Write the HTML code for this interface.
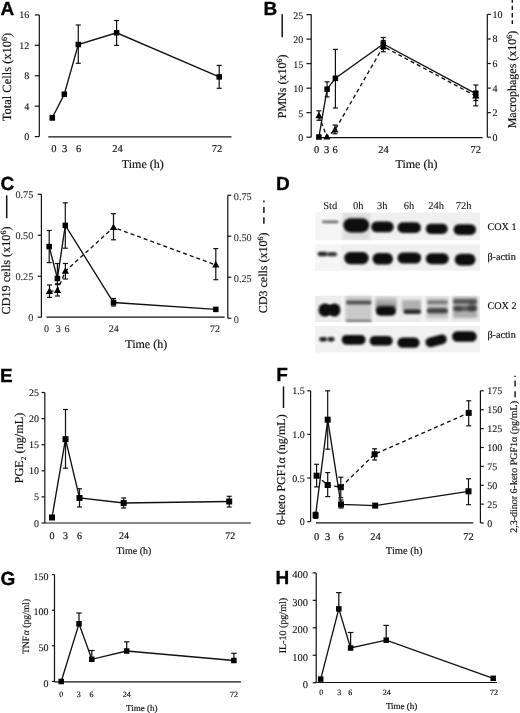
<!DOCTYPE html><html><head><meta charset="utf-8"><style>html,body{margin:0;padding:0;background:#fff;overflow:hidden}svg{display:block}</style></head><body>
<svg width="520" height="713" viewBox="0 0 520 713" text-rendering="geometricPrecision" style="will-change:transform">
<defs><linearGradient id="hg" x1="0" y1="0" x2="0" y2="1"><stop offset="0" stop-color="#000" stop-opacity="0.12"/><stop offset="1" stop-color="#000" stop-opacity="0.5"/></linearGradient><filter id="bl" x="-30%" y="-60%" width="160%" height="220%"><feGaussianBlur stdDeviation="1.6"/></filter><filter id="bl2" x="-30%" y="-60%" width="160%" height="220%"><feGaussianBlur stdDeviation="1.05"/></filter></defs>
<text x="0.5" y="14.8" font-family="Liberation Sans" font-size="19" text-anchor="start" font-weight="bold" fill="#000" stroke="#000" stroke-width="0.3" >A</text>
<line x1="39.3" y1="14.9" x2="39.3" y2="136.6" stroke="#111" stroke-width="1.2"/>
<line x1="34.8" y1="14.9" x2="39.3" y2="14.9" stroke="#111" stroke-width="1.2"/>
<text x="29.3" y="18.4" font-family="Liberation Serif" font-size="10" text-anchor="end" font-weight="normal" fill="#111" stroke="#111" stroke-width="0.1" >16</text>
<line x1="34.8" y1="45.32" x2="39.3" y2="45.32" stroke="#111" stroke-width="1.2"/>
<text x="29.3" y="48.82" font-family="Liberation Serif" font-size="10" text-anchor="end" font-weight="normal" fill="#111" stroke="#111" stroke-width="0.1" >12</text>
<line x1="34.8" y1="75.74" x2="39.3" y2="75.74" stroke="#111" stroke-width="1.2"/>
<text x="29.3" y="79.24" font-family="Liberation Serif" font-size="10" text-anchor="end" font-weight="normal" fill="#111" stroke="#111" stroke-width="0.1" >8</text>
<line x1="34.8" y1="106.16" x2="39.3" y2="106.16" stroke="#111" stroke-width="1.2"/>
<text x="29.3" y="109.66" font-family="Liberation Serif" font-size="10" text-anchor="end" font-weight="normal" fill="#111" stroke="#111" stroke-width="0.1" >4</text>
<line x1="34.8" y1="136.58" x2="39.3" y2="136.58" stroke="#111" stroke-width="1.2"/>
<text x="29.3" y="140.08" font-family="Liberation Serif" font-size="10" text-anchor="end" font-weight="normal" fill="#111" stroke="#111" stroke-width="0.1" >0</text>
<line x1="48.3" y1="136.8" x2="231.5" y2="136.8" stroke="#111" stroke-width="1.2"/>
<text x="53.8" y="152.3" font-family="Liberation Serif" font-size="10.5" text-anchor="middle" font-weight="normal" fill="#111" stroke="#111" stroke-width="0.18" >0</text>
<text x="64.6" y="152.3" font-family="Liberation Serif" font-size="10.5" text-anchor="middle" font-weight="normal" fill="#111" stroke="#111" stroke-width="0.18" >3</text>
<text x="78.5" y="152.3" font-family="Liberation Serif" font-size="10.5" text-anchor="middle" font-weight="normal" fill="#111" stroke="#111" stroke-width="0.18" >6</text>
<text x="117.6" y="152.3" font-family="Liberation Serif" font-size="10.5" text-anchor="middle" font-weight="normal" fill="#111" stroke="#111" stroke-width="0.18" >24</text>
<text x="217" y="152.3" font-family="Liberation Serif" font-size="10.5" text-anchor="middle" font-weight="normal" fill="#111" stroke="#111" stroke-width="0.18" >72</text>
<text x="142.8" y="167.5" font-family="Liberation Serif" font-size="12" text-anchor="middle" font-weight="normal" fill="#111" stroke="#111" stroke-width="0.18" >Time (h)</text>
<text transform="translate(10.9,77) rotate(-90)" x="0" y="0" font-family="Liberation Serif" font-size="12.5" text-anchor="middle" font-weight="normal" fill="#111" stroke="#111" stroke-width="0.18">Total Cells (x10<tspan dy="-4" font-size="8">6</tspan><tspan dy="4">)</tspan></text>
<polyline points="52.3,117.7 64.3,94.2 78.3,44.5 116.6,32.8 219.2,76.9" fill="none" stroke="#111" stroke-width="1.35"/>
<line x1="78.3" y1="25" x2="78.3" y2="63.3" stroke="#111" stroke-width="1.2"/>
<line x1="75.8" y1="25" x2="80.8" y2="25" stroke="#111" stroke-width="1.2"/>
<line x1="75.8" y1="63.3" x2="80.8" y2="63.3" stroke="#111" stroke-width="1.2"/>
<line x1="116.6" y1="20.5" x2="116.6" y2="45.4" stroke="#111" stroke-width="1.2"/>
<line x1="114.1" y1="20.5" x2="119.1" y2="20.5" stroke="#111" stroke-width="1.2"/>
<line x1="114.1" y1="45.4" x2="119.1" y2="45.4" stroke="#111" stroke-width="1.2"/>
<line x1="219.2" y1="65.4" x2="219.2" y2="88.3" stroke="#111" stroke-width="1.2"/>
<line x1="216.7" y1="65.4" x2="221.7" y2="65.4" stroke="#111" stroke-width="1.2"/>
<line x1="216.7" y1="88.3" x2="221.7" y2="88.3" stroke="#111" stroke-width="1.2"/>
<line x1="52.3" y1="115.5" x2="52.3" y2="120" stroke="#111" stroke-width="1.2"/>
<line x1="49.8" y1="115.5" x2="54.8" y2="115.5" stroke="#111" stroke-width="1.2"/>
<line x1="49.8" y1="120" x2="54.8" y2="120" stroke="#111" stroke-width="1.2"/>
<rect x="49.55" y="114.95" width="5.5" height="5.5" fill="#000"/>
<rect x="61.55" y="91.45" width="5.5" height="5.5" fill="#000"/>
<rect x="75.55" y="41.75" width="5.5" height="5.5" fill="#000"/>
<rect x="113.85" y="30.05" width="5.5" height="5.5" fill="#000"/>
<rect x="216.45" y="74.15" width="5.5" height="5.5" fill="#000"/>
<text x="263.5" y="14.9" font-family="Liberation Sans" font-size="19" text-anchor="start" font-weight="bold" fill="#000" stroke="#000" stroke-width="0.3" >B</text>
<line x1="282.2" y1="14.2" x2="282.2" y2="37.3" stroke="#111" stroke-width="1.5"/>
<line x1="311.2" y1="14.6" x2="311.2" y2="137.2" stroke="#111" stroke-width="1.2"/>
<line x1="306.4" y1="14.6" x2="311.2" y2="14.6" stroke="#111" stroke-width="1.2"/>
<text x="303.2" y="18.7" font-family="Liberation Serif" font-size="10" text-anchor="end" font-weight="normal" fill="#111" stroke="#111" stroke-width="0.1" >25</text>
<line x1="306.4" y1="39.12" x2="311.2" y2="39.12" stroke="#111" stroke-width="1.2"/>
<text x="303.2" y="43.22" font-family="Liberation Serif" font-size="10" text-anchor="end" font-weight="normal" fill="#111" stroke="#111" stroke-width="0.1" >20</text>
<line x1="306.4" y1="63.64" x2="311.2" y2="63.64" stroke="#111" stroke-width="1.2"/>
<text x="303.2" y="67.74" font-family="Liberation Serif" font-size="10" text-anchor="end" font-weight="normal" fill="#111" stroke="#111" stroke-width="0.1" >15</text>
<line x1="306.4" y1="88.16" x2="311.2" y2="88.16" stroke="#111" stroke-width="1.2"/>
<text x="303.2" y="92.26" font-family="Liberation Serif" font-size="10" text-anchor="end" font-weight="normal" fill="#111" stroke="#111" stroke-width="0.1" >10</text>
<line x1="306.4" y1="112.68" x2="311.2" y2="112.68" stroke="#111" stroke-width="1.2"/>
<text x="303.2" y="116.78" font-family="Liberation Serif" font-size="10" text-anchor="end" font-weight="normal" fill="#111" stroke="#111" stroke-width="0.1" >5</text>
<line x1="306.4" y1="137.2" x2="311.2" y2="137.2" stroke="#111" stroke-width="1.2"/>
<text x="303.2" y="141.3" font-family="Liberation Serif" font-size="10" text-anchor="end" font-weight="normal" fill="#111" stroke="#111" stroke-width="0.1" >0</text>
<line x1="487.3" y1="14.4" x2="487.3" y2="137.2" stroke="#111" stroke-width="1.2"/>
<line x1="487.3" y1="14.4" x2="490.8" y2="14.4" stroke="#111" stroke-width="1.2"/>
<text x="492.6" y="17.9" font-family="Liberation Serif" font-size="10" text-anchor="start" font-weight="normal" fill="#111" stroke="#111" stroke-width="0.1" >10</text>
<line x1="487.3" y1="38.96" x2="490.8" y2="38.96" stroke="#111" stroke-width="1.2"/>
<text x="492.6" y="42.46" font-family="Liberation Serif" font-size="10" text-anchor="start" font-weight="normal" fill="#111" stroke="#111" stroke-width="0.1" >8</text>
<line x1="487.3" y1="63.52" x2="490.8" y2="63.52" stroke="#111" stroke-width="1.2"/>
<text x="492.6" y="67.02" font-family="Liberation Serif" font-size="10" text-anchor="start" font-weight="normal" fill="#111" stroke="#111" stroke-width="0.1" >6</text>
<line x1="487.3" y1="88.08" x2="490.8" y2="88.08" stroke="#111" stroke-width="1.2"/>
<text x="492.6" y="91.58" font-family="Liberation Serif" font-size="10" text-anchor="start" font-weight="normal" fill="#111" stroke="#111" stroke-width="0.1" >4</text>
<line x1="487.3" y1="112.64" x2="490.8" y2="112.64" stroke="#111" stroke-width="1.2"/>
<text x="492.6" y="116.14" font-family="Liberation Serif" font-size="10" text-anchor="start" font-weight="normal" fill="#111" stroke="#111" stroke-width="0.1" >2</text>
<line x1="487.3" y1="137.2" x2="490.8" y2="137.2" stroke="#111" stroke-width="1.2"/>
<text x="492.6" y="140.7" font-family="Liberation Serif" font-size="10" text-anchor="start" font-weight="normal" fill="#111" stroke="#111" stroke-width="0.1" >0</text>
<line x1="316" y1="137.6" x2="482.5" y2="137.6" stroke="#111" stroke-width="1.2"/>
<text x="316.6" y="152.5" font-family="Liberation Serif" font-size="10.5" text-anchor="middle" font-weight="normal" fill="#111" stroke="#111" stroke-width="0.18" >0</text>
<text x="326.6" y="152.5" font-family="Liberation Serif" font-size="10.5" text-anchor="middle" font-weight="normal" fill="#111" stroke="#111" stroke-width="0.18" >3</text>
<text x="335.2" y="152.5" font-family="Liberation Serif" font-size="10.5" text-anchor="middle" font-weight="normal" fill="#111" stroke="#111" stroke-width="0.18" >6</text>
<text x="383.6" y="152.5" font-family="Liberation Serif" font-size="10.5" text-anchor="middle" font-weight="normal" fill="#111" stroke="#111" stroke-width="0.18" >24</text>
<text x="475.8" y="152.5" font-family="Liberation Serif" font-size="10.5" text-anchor="middle" font-weight="normal" fill="#111" stroke="#111" stroke-width="0.18" >72</text>
<text x="416.5" y="167.8" font-family="Liberation Serif" font-size="12" text-anchor="middle" font-weight="normal" fill="#111" stroke="#111" stroke-width="0.18" >Time (h)</text>
<text transform="translate(285.7,86.4) rotate(-90)" x="0" y="0" font-family="Liberation Serif" font-size="12" text-anchor="middle" font-weight="normal" fill="#111" stroke="#111" stroke-width="0.18">PMNs (x10<tspan dy="-4" font-size="8">6</tspan><tspan dy="4">)</tspan></text>
<text transform="translate(515.6,79.5) rotate(-90)" x="0" y="0" font-family="Liberation Serif" font-size="12" text-anchor="middle" font-weight="normal" fill="#111" stroke="#111" stroke-width="0.18">Macrophages (x10<tspan dy="-4" font-size="8">6</tspan><tspan dy="4">)</tspan></text>
<line x1="512.3" y1="-1.6" x2="512.3" y2="24" stroke="#111" stroke-width="1.4" stroke-dasharray="4.4,2.9"/>
<polyline points="318.9,115.7 326.9,137 335,130 383.3,46.5 475.8,96" fill="none" stroke="#111" stroke-width="1.35" stroke-dasharray="4,3"/>
<polyline points="318.9,137 327.1,89.2 335.4,78.3 383.3,44 475.8,93.7" fill="none" stroke="#111" stroke-width="1.35"/>
<line x1="327.1" y1="81.8" x2="327.1" y2="96.9" stroke="#111" stroke-width="1.2"/>
<line x1="324.6" y1="81.8" x2="329.6" y2="81.8" stroke="#111" stroke-width="1.2"/>
<line x1="324.6" y1="96.9" x2="329.6" y2="96.9" stroke="#111" stroke-width="1.2"/>
<line x1="335.4" y1="49.4" x2="335.4" y2="108" stroke="#111" stroke-width="1.2"/>
<line x1="332.9" y1="49.4" x2="337.9" y2="49.4" stroke="#111" stroke-width="1.2"/>
<line x1="332.9" y1="108" x2="337.9" y2="108" stroke="#111" stroke-width="1.2"/>
<line x1="383.3" y1="37.5" x2="383.3" y2="49" stroke="#111" stroke-width="1.2"/>
<line x1="380.8" y1="37.5" x2="385.8" y2="37.5" stroke="#111" stroke-width="1.2"/>
<line x1="380.8" y1="49" x2="385.8" y2="49" stroke="#111" stroke-width="1.2"/>
<line x1="475.8" y1="85" x2="475.8" y2="100.5" stroke="#111" stroke-width="1.2"/>
<line x1="473.3" y1="85" x2="478.3" y2="85" stroke="#111" stroke-width="1.2"/>
<line x1="473.3" y1="100.5" x2="478.3" y2="100.5" stroke="#111" stroke-width="1.2"/>
<line x1="318.9" y1="110.8" x2="318.9" y2="120.3" stroke="#111" stroke-width="1.2"/>
<line x1="316.4" y1="110.8" x2="321.4" y2="110.8" stroke="#111" stroke-width="1.2"/>
<line x1="316.4" y1="120.3" x2="321.4" y2="120.3" stroke="#111" stroke-width="1.2"/>
<line x1="335" y1="125" x2="335" y2="133.8" stroke="#111" stroke-width="1.2"/>
<line x1="332.5" y1="125" x2="337.5" y2="125" stroke="#111" stroke-width="1.2"/>
<line x1="332.5" y1="133.8" x2="337.5" y2="133.8" stroke="#111" stroke-width="1.2"/>
<line x1="383.3" y1="40.5" x2="383.3" y2="51.7" stroke="#111" stroke-width="1.2"/>
<line x1="380.8" y1="40.5" x2="385.8" y2="40.5" stroke="#111" stroke-width="1.2"/>
<line x1="380.8" y1="51.7" x2="385.8" y2="51.7" stroke="#111" stroke-width="1.2"/>
<line x1="475.8" y1="91" x2="475.8" y2="105.8" stroke="#111" stroke-width="1.2"/>
<line x1="473.3" y1="91" x2="478.3" y2="91" stroke="#111" stroke-width="1.2"/>
<line x1="473.3" y1="105.8" x2="478.3" y2="105.8" stroke="#111" stroke-width="1.2"/>
<rect x="316.15" y="134.25" width="5.5" height="5.5" fill="#000"/>
<rect x="324.35" y="86.45" width="5.5" height="5.5" fill="#000"/>
<rect x="332.65" y="75.55" width="5.5" height="5.5" fill="#000"/>
<rect x="380.55" y="41.25" width="5.5" height="5.5" fill="#000"/>
<rect x="473.05" y="90.95" width="5.5" height="5.5" fill="#000"/>
<polygon points="318.9,111.81 315.3,118.29 322.5,118.29" fill="#000"/>
<polygon points="326.9,133.11 323.3,139.59 330.5,139.59" fill="#000"/>
<polygon points="335,126.11 331.4,132.59 338.6,132.59" fill="#000"/>
<polygon points="383.3,42.61 379.7,49.09 386.9,49.09" fill="#000"/>
<polygon points="475.8,92.11 472.2,98.59 479.4,98.59" fill="#000"/>
<text x="0.5" y="189.7" font-family="Liberation Sans" font-size="19" text-anchor="start" font-weight="bold" fill="#000" stroke="#000" stroke-width="0.3" >C</text>
<line x1="6.7" y1="195.4" x2="6.7" y2="218.2" stroke="#111" stroke-width="1.5"/>
<line x1="41.4" y1="194.3" x2="41.4" y2="317.3" stroke="#111" stroke-width="1.2"/>
<line x1="37.7" y1="194.3" x2="41.4" y2="194.3" stroke="#111" stroke-width="1.2"/>
<text x="33.3" y="198.17" font-family="Liberation Serif" font-size="10.2" text-anchor="end" font-weight="normal" fill="#333" stroke="#333" stroke-width="0.1" >0.75</text>
<line x1="37.7" y1="235.27" x2="41.4" y2="235.27" stroke="#111" stroke-width="1.2"/>
<text x="33.3" y="239.14" font-family="Liberation Serif" font-size="10.2" text-anchor="end" font-weight="normal" fill="#333" stroke="#333" stroke-width="0.1" >0.50</text>
<line x1="37.7" y1="276.24" x2="41.4" y2="276.24" stroke="#111" stroke-width="1.2"/>
<text x="33.3" y="280.11" font-family="Liberation Serif" font-size="10.2" text-anchor="end" font-weight="normal" fill="#333" stroke="#333" stroke-width="0.1" >0.25</text>
<line x1="37.7" y1="317.21" x2="41.4" y2="317.21" stroke="#111" stroke-width="1.2"/>
<text x="33.3" y="321.08" font-family="Liberation Serif" font-size="10.2" text-anchor="end" font-weight="normal" fill="#333" stroke="#333" stroke-width="0.1" >0</text>
<line x1="227.8" y1="195.2" x2="227.8" y2="318.2" stroke="#111" stroke-width="1.2"/>
<line x1="227.8" y1="195.2" x2="231.3" y2="195.2" stroke="#111" stroke-width="1.2"/>
<text x="233.8" y="199.57" font-family="Liberation Serif" font-size="10.2" text-anchor="start" font-weight="normal" fill="#333" stroke="#333" stroke-width="0.1" >0.75</text>
<line x1="227.8" y1="236.2" x2="231.3" y2="236.2" stroke="#111" stroke-width="1.2"/>
<text x="233.8" y="240.57" font-family="Liberation Serif" font-size="10.2" text-anchor="start" font-weight="normal" fill="#333" stroke="#333" stroke-width="0.1" >0.50</text>
<line x1="227.8" y1="277.2" x2="231.3" y2="277.2" stroke="#111" stroke-width="1.2"/>
<text x="233.8" y="281.57" font-family="Liberation Serif" font-size="10.2" text-anchor="start" font-weight="normal" fill="#333" stroke="#333" stroke-width="0.1" >0.25</text>
<line x1="227.8" y1="318.2" x2="231.3" y2="318.2" stroke="#111" stroke-width="1.2"/>
<text x="233.8" y="322.57" font-family="Liberation Serif" font-size="10.2" text-anchor="start" font-weight="normal" fill="#333" stroke="#333" stroke-width="0.1" >0</text>
<line x1="46.4" y1="317.2" x2="224.6" y2="317.2" stroke="#111" stroke-width="1.2"/>
<text x="46.5" y="332" font-family="Liberation Serif" font-size="10" text-anchor="middle" font-weight="normal" fill="#333" stroke="#333" stroke-width="0.18" >0</text>
<text x="58.3" y="332" font-family="Liberation Serif" font-size="10" text-anchor="middle" font-weight="normal" fill="#333" stroke="#333" stroke-width="0.18" >3</text>
<text x="67" y="332" font-family="Liberation Serif" font-size="10" text-anchor="middle" font-weight="normal" fill="#333" stroke="#333" stroke-width="0.18" >6</text>
<text x="113.7" y="332" font-family="Liberation Serif" font-size="10" text-anchor="middle" font-weight="normal" fill="#333" stroke="#333" stroke-width="0.18" >24</text>
<text x="215" y="332" font-family="Liberation Serif" font-size="10" text-anchor="middle" font-weight="normal" fill="#333" stroke="#333" stroke-width="0.18" >72</text>
<text x="146.2" y="347.5" font-family="Liberation Serif" font-size="12" text-anchor="middle" font-weight="normal" fill="#111" stroke="#111" stroke-width="0.18" >Time (h)</text>
<text transform="translate(10.0,270.5) rotate(-90)" x="0" y="0" font-family="Liberation Serif" font-size="12.2" text-anchor="middle" font-weight="normal" fill="#111" stroke="#111" stroke-width="0.18">CD19 cells (x10<tspan dy="-4" font-size="8">6</tspan><tspan dy="4">)</tspan></text>
<text transform="translate(266.9,272.8) rotate(-90)" x="0" y="0" font-family="Liberation Serif" font-size="12" text-anchor="middle" font-weight="normal" fill="#111" stroke="#111" stroke-width="0.18">CD3 cells (x10<tspan dy="-4" font-size="8">6</tspan><tspan dy="4">)</tspan></text>
<line x1="263.9" y1="200.6" x2="263.9" y2="223.8" stroke="#111" stroke-width="1.5" stroke-dasharray="1.6,4.7,6,4.4,6.5,10"/>
<polyline points="49.2,246.6 57.4,278.5 65.3,225.4 113.5,302.5 215.8,309.4" fill="none" stroke="#111" stroke-width="1.35"/>
<polyline points="49.5,291.5 57.5,290.3 65.4,271.2 113.5,227.4 215.8,265" fill="none" stroke="#111" stroke-width="1.35" stroke-dasharray="4,3"/>
<line x1="49.2" y1="230.5" x2="49.2" y2="262.6" stroke="#111" stroke-width="1.2"/>
<line x1="46.7" y1="230.5" x2="51.7" y2="230.5" stroke="#111" stroke-width="1.2"/>
<line x1="46.7" y1="262.6" x2="51.7" y2="262.6" stroke="#111" stroke-width="1.2"/>
<line x1="57.4" y1="263.5" x2="57.4" y2="284.6" stroke="#111" stroke-width="1.2"/>
<line x1="54.9" y1="263.5" x2="59.9" y2="263.5" stroke="#111" stroke-width="1.2"/>
<line x1="54.9" y1="284.6" x2="59.9" y2="284.6" stroke="#111" stroke-width="1.2"/>
<line x1="65.3" y1="202.8" x2="65.3" y2="248.2" stroke="#111" stroke-width="1.2"/>
<line x1="62.8" y1="202.8" x2="67.8" y2="202.8" stroke="#111" stroke-width="1.2"/>
<line x1="62.8" y1="248.2" x2="67.8" y2="248.2" stroke="#111" stroke-width="1.2"/>
<line x1="113.5" y1="298.5" x2="113.5" y2="306" stroke="#111" stroke-width="1.2"/>
<line x1="111.0" y1="298.5" x2="116.0" y2="298.5" stroke="#111" stroke-width="1.2"/>
<line x1="111.0" y1="306" x2="116.0" y2="306" stroke="#111" stroke-width="1.2"/>
<line x1="49.5" y1="285" x2="49.5" y2="297.4" stroke="#111" stroke-width="1.2"/>
<line x1="47.0" y1="285" x2="52.0" y2="285" stroke="#111" stroke-width="1.2"/>
<line x1="47.0" y1="297.4" x2="52.0" y2="297.4" stroke="#111" stroke-width="1.2"/>
<line x1="57.5" y1="283.8" x2="57.5" y2="296" stroke="#111" stroke-width="1.2"/>
<line x1="55.0" y1="283.8" x2="60.0" y2="283.8" stroke="#111" stroke-width="1.2"/>
<line x1="55.0" y1="296" x2="60.0" y2="296" stroke="#111" stroke-width="1.2"/>
<line x1="65.4" y1="263.5" x2="65.4" y2="279" stroke="#111" stroke-width="1.2"/>
<line x1="62.9" y1="263.5" x2="67.9" y2="263.5" stroke="#111" stroke-width="1.2"/>
<line x1="62.9" y1="279" x2="67.9" y2="279" stroke="#111" stroke-width="1.2"/>
<line x1="113.5" y1="213.7" x2="113.5" y2="239.8" stroke="#111" stroke-width="1.2"/>
<line x1="111.0" y1="213.7" x2="116.0" y2="213.7" stroke="#111" stroke-width="1.2"/>
<line x1="111.0" y1="239.8" x2="116.0" y2="239.8" stroke="#111" stroke-width="1.2"/>
<line x1="215.8" y1="248.6" x2="215.8" y2="279.7" stroke="#111" stroke-width="1.2"/>
<line x1="213.3" y1="248.6" x2="218.3" y2="248.6" stroke="#111" stroke-width="1.2"/>
<line x1="213.3" y1="279.7" x2="218.3" y2="279.7" stroke="#111" stroke-width="1.2"/>
<rect x="46.45" y="243.85" width="5.5" height="5.5" fill="#000"/>
<rect x="54.65" y="275.75" width="5.5" height="5.5" fill="#000"/>
<rect x="62.55" y="222.65" width="5.5" height="5.5" fill="#000"/>
<rect x="110.75" y="299.75" width="5.5" height="5.5" fill="#000"/>
<rect x="213.05" y="306.65" width="5.5" height="5.5" fill="#000"/>
<polygon points="49.5,287.61 45.9,294.09 53.1,294.09" fill="#000"/>
<polygon points="57.5,286.41 53.9,292.89 61.1,292.89" fill="#000"/>
<polygon points="65.4,267.31 61.8,273.79 69.0,273.79" fill="#000"/>
<polygon points="113.5,223.51 109.9,229.99 117.1,229.99" fill="#000"/>
<polygon points="215.8,261.11 212.2,267.59 219.4,267.59" fill="#000"/>
<text x="276" y="190" font-family="Liberation Sans" font-size="19" text-anchor="start" font-weight="bold" fill="#000" stroke="#000" stroke-width="0.3" >D</text>
<text x="330.2" y="208.7" font-family="Liberation Serif" font-size="10.5" text-anchor="middle" font-weight="normal" fill="#111" stroke="#111" stroke-width="0.08" >Std</text>
<text x="358.3" y="208.7" font-family="Liberation Serif" font-size="10.5" text-anchor="middle" font-weight="normal" fill="#111" stroke="#111" stroke-width="0.08" >0h</text>
<text x="382.2" y="208.7" font-family="Liberation Serif" font-size="10.5" text-anchor="middle" font-weight="normal" fill="#111" stroke="#111" stroke-width="0.08" >3h</text>
<text x="409" y="208.7" font-family="Liberation Serif" font-size="10.5" text-anchor="middle" font-weight="normal" fill="#111" stroke="#111" stroke-width="0.08" >6h</text>
<text x="436" y="208.7" font-family="Liberation Serif" font-size="10.5" text-anchor="middle" font-weight="normal" fill="#111" stroke="#111" stroke-width="0.08" >24h</text>
<text x="463.5" y="208.7" font-family="Liberation Serif" font-size="10.5" text-anchor="middle" font-weight="normal" fill="#111" stroke="#111" stroke-width="0.08" >72h</text>
<text x="487.4" y="229.7" font-family="Liberation Serif" font-size="10.2" text-anchor="start" font-weight="normal" fill="#111" stroke="#111" stroke-width="0.18" >COX 1</text>
<text x="487.4" y="259.8" font-family="Liberation Serif" font-size="10.2" text-anchor="start" font-weight="normal" fill="#111" stroke="#111" stroke-width="0.18" >&#946;-actin</text>
<text x="487.4" y="308.9" font-family="Liberation Serif" font-size="10.2" text-anchor="start" font-weight="normal" fill="#111" stroke="#111" stroke-width="0.18" >COX 2</text>
<text x="487.4" y="337.6" font-family="Liberation Serif" font-size="10.2" text-anchor="start" font-weight="normal" fill="#111" stroke="#111" stroke-width="0.18" >&#946;-actin</text>
<rect x="315" y="212.5" width="165" height="27.7" fill="#f0f0f0"/>
<rect x="315" y="212.5" width="25.5" height="27.7" fill="#f5f5f5"/>
<rect x="315" y="244.3" width="165" height="26.3" fill="#f0f0f0"/>
<rect x="315" y="244.3" width="25.5" height="26.3" fill="#f5f5f5"/>
<rect x="315" y="295.8" width="165" height="26.2" fill="#ececec"/>
<rect x="315" y="326" width="165" height="26.5" fill="#f1f1f1"/>
<rect x="341.7" y="295.8" width="2" height="26.2" fill="#fafafa" filter="url(#bl2)"/>
<rect x="372.5" y="295.8" width="2" height="26.2" fill="#fafafa" filter="url(#bl2)"/>
<rect x="422.5" y="295.8" width="2" height="26.2" fill="#fafafa" filter="url(#bl2)"/>
<rect x="449.4" y="295.8" width="2" height="26.2" fill="#fafafa" filter="url(#bl2)"/>
<rect x="343" y="213" width="27" height="27" fill="#000" fill-opacity="0.08" filter="url(#bl)"/>
<rect x="322" y="220.6" width="16.5" height="2.6" rx="1.3" fill="#0a0a0a" fill-opacity="0.55" filter="url(#bl2)"/>
<rect x="343.4" y="218.2" width="25.7" height="14.2" rx="7.1" fill="#0a0a0a" fill-opacity="1" filter="url(#bl2)"/>
<rect x="371.2" y="221.5" width="22.5" height="10.8" rx="5.4" fill="#0a0a0a" fill-opacity="1" filter="url(#bl2)"/>
<rect x="397.5" y="222.3" width="23.4" height="10.6" rx="5.3" fill="#0a0a0a" fill-opacity="1" filter="url(#bl2)"/>
<rect x="425.8" y="223.8" width="21.9" height="10.2" rx="5.1" fill="#0a0a0a" fill-opacity="1" filter="url(#bl2)"/>
<rect x="453.6" y="224.3" width="22.4" height="10.6" rx="5.3" fill="#0a0a0a" fill-opacity="1" filter="url(#bl2)"/>
<rect x="317.7" y="251.7" width="9.8" height="4.6" rx="2.3" fill="#0a0a0a" fill-opacity="0.9" filter="url(#bl2)"/>
<rect x="327" y="252.3" width="10" height="4" rx="2.0" fill="#0a0a0a" fill-opacity="0.85" filter="url(#bl2)"/>
<rect x="344.2" y="252" width="24.5" height="12.2" rx="6.1" fill="#0a0a0a" fill-opacity="1" filter="url(#bl2)"/>
<rect x="372.5" y="253.0" width="20.5" height="11.6" rx="5.8" fill="#0a0a0a" fill-opacity="1" filter="url(#bl2)"/>
<rect x="397.5" y="252.45" width="23.7" height="11.1" rx="5.55" fill="#0a0a0a" fill-opacity="1" filter="url(#bl2)"/>
<rect x="425.8" y="253.2" width="22.9" height="11" rx="5.5" fill="#0a0a0a" fill-opacity="1" filter="url(#bl2)"/>
<rect x="454.7" y="253.7" width="20.8" height="11.8" rx="5.9" fill="#0a0a0a" fill-opacity="1" filter="url(#bl2)"/>
<ellipse cx="324.8" cy="310" rx="6.3" ry="6.6" fill="#0a0a0a" filter="url(#bl2)"/>
<ellipse cx="334.6" cy="310" rx="5.8" ry="6.6" fill="#0a0a0a" filter="url(#bl2)"/>
<rect x="324" y="305.5" width="11" height="9" fill="#0a0a0a" filter="url(#bl2)"/>
<rect x="345.6" y="296" width="25.9" height="26" fill="#000" fill-opacity="0.15" filter="url(#bl)"/>
<rect x="346" y="300.6" width="25.5" height="3.8" rx="1.9" fill="#0a0a0a" fill-opacity="0.6" filter="url(#bl2)"/>
<rect x="346" y="319.8" width="25.5" height="2" rx="1.0" fill="#0a0a0a" fill-opacity="0.45" filter="url(#bl2)"/>
<rect x="375.5" y="297" width="21" height="12" fill="url(#hg)" filter="url(#bl)"/>
<rect x="375.8" y="306.3" width="20.2" height="9.4" rx="4.7" fill="#0a0a0a" fill-opacity="1" filter="url(#bl2)"/>
<rect x="402" y="300" width="19" height="11" fill="#000" fill-opacity="0.26" filter="url(#bl)"/>
<rect x="403.5" y="309.5" width="17.5" height="4.6" rx="2.3" fill="#0a0a0a" fill-opacity="0.88" filter="url(#bl2)"/>
<rect x="427" y="298" width="20.8" height="20" fill="#000" fill-opacity="0.2" filter="url(#bl)"/>
<rect x="427" y="300.8" width="20.8" height="3" rx="1.5" fill="#0a0a0a" fill-opacity="0.4" filter="url(#bl2)"/>
<rect x="427" y="308.3" width="20.8" height="5" rx="2.5" fill="#0a0a0a" fill-opacity="0.72" filter="url(#bl2)"/>
<rect x="453" y="297" width="24.2" height="21" fill="#000" fill-opacity="0.27" filter="url(#bl)"/>
<rect x="453" y="299.35" width="24.2" height="4.5" rx="2.25" fill="#0a0a0a" fill-opacity="0.5" filter="url(#bl2)"/>
<rect x="453" y="306.1" width="24.2" height="5" rx="2.5" fill="#0a0a0a" fill-opacity="0.45" filter="url(#bl2)"/>
<ellipse cx="472" cy="307" rx="4" ry="5" fill="#000" fill-opacity="0.35" filter="url(#bl)"/>
<ellipse cx="458" cy="309" rx="4" ry="3" fill="#000" fill-opacity="0.25" filter="url(#bl)"/>
<rect x="319.3" y="336.9" width="7.7" height="4.6" rx="2.3" fill="#0a0a0a" fill-opacity="0.92" filter="url(#bl2)"/>
<rect x="327.5" y="337.1" width="7.0" height="4.4" rx="2.2" fill="#0a0a0a" fill-opacity="0.9" filter="url(#bl2)"/>
<rect x="341.7" y="334.9" width="23.8" height="9.8" rx="4.9" fill="#0a0a0a" fill-opacity="1" filter="url(#bl2)"/>
<rect x="369.6" y="336.0" width="23.1" height="9.6" rx="4.8" fill="#0a0a0a" fill-opacity="1" filter="url(#bl2)"/>
<rect x="397.4" y="337.45" width="22.2" height="10.3" rx="5.15" fill="#0a0a0a" fill-opacity="1" filter="url(#bl2)"/>
<rect x="425.3" y="335.9" width="21.6" height="9.8" rx="4.9" fill="#0a0a0a" fill-opacity="1" filter="url(#bl2)" transform="rotate(-15 436.1 340.8)"/>
<rect x="452.1" y="331.35" width="24.6" height="10.3" rx="5.15" fill="#0a0a0a" fill-opacity="1" filter="url(#bl2)"/>
<text x="0" y="381.5" font-family="Liberation Sans" font-size="19" text-anchor="start" font-weight="bold" fill="#000" stroke="#000" stroke-width="0.3" >E</text>
<line x1="44.8" y1="392.5" x2="44.8" y2="523" stroke="#111" stroke-width="1.2"/>
<line x1="41.5" y1="392.5" x2="44.8" y2="392.5" stroke="#111" stroke-width="1.2"/>
<text x="39.0" y="396.0" font-family="Liberation Serif" font-size="10" text-anchor="end" font-weight="normal" fill="#111" stroke="#111" stroke-width="0.1" >25</text>
<line x1="41.5" y1="418.6" x2="44.8" y2="418.6" stroke="#111" stroke-width="1.2"/>
<text x="39.0" y="422.1" font-family="Liberation Serif" font-size="10" text-anchor="end" font-weight="normal" fill="#111" stroke="#111" stroke-width="0.1" >20</text>
<line x1="41.5" y1="444.7" x2="44.8" y2="444.7" stroke="#111" stroke-width="1.2"/>
<text x="39.0" y="448.2" font-family="Liberation Serif" font-size="10" text-anchor="end" font-weight="normal" fill="#111" stroke="#111" stroke-width="0.1" >15</text>
<line x1="41.5" y1="470.8" x2="44.8" y2="470.8" stroke="#111" stroke-width="1.2"/>
<text x="39.0" y="474.3" font-family="Liberation Serif" font-size="10" text-anchor="end" font-weight="normal" fill="#111" stroke="#111" stroke-width="0.1" >10</text>
<line x1="41.5" y1="496.9" x2="44.8" y2="496.9" stroke="#111" stroke-width="1.2"/>
<text x="39.0" y="500.4" font-family="Liberation Serif" font-size="10" text-anchor="end" font-weight="normal" fill="#111" stroke="#111" stroke-width="0.1" >5</text>
<line x1="41.5" y1="523.0" x2="44.8" y2="523.0" stroke="#111" stroke-width="1.2"/>
<text x="39.0" y="526.5" font-family="Liberation Serif" font-size="10" text-anchor="end" font-weight="normal" fill="#111" stroke="#111" stroke-width="0.1" >0</text>
<line x1="44.8" y1="523" x2="250.8" y2="523" stroke="#111" stroke-width="1.2"/>
<text x="52" y="539" font-family="Liberation Serif" font-size="10" text-anchor="middle" font-weight="normal" fill="#111" stroke="#111" stroke-width="0.18" >0</text>
<text x="65.5" y="539" font-family="Liberation Serif" font-size="10" text-anchor="middle" font-weight="normal" fill="#111" stroke="#111" stroke-width="0.18" >3</text>
<text x="79.5" y="539" font-family="Liberation Serif" font-size="10" text-anchor="middle" font-weight="normal" fill="#111" stroke="#111" stroke-width="0.18" >6</text>
<text x="124" y="539" font-family="Liberation Serif" font-size="10" text-anchor="middle" font-weight="normal" fill="#111" stroke="#111" stroke-width="0.18" >24</text>
<text x="230.2" y="539" font-family="Liberation Serif" font-size="10" text-anchor="middle" font-weight="normal" fill="#111" stroke="#111" stroke-width="0.18" >72</text>
<text x="134" y="553.5" font-family="Liberation Serif" font-size="10" text-anchor="middle" font-weight="normal" fill="#111" stroke="#111" stroke-width="0.18" >Time (h)</text>
<text transform="translate(23.2,448) rotate(-90)" x="0" y="0" font-family="Liberation Serif" font-size="12.2" text-anchor="middle" font-weight="normal" fill="#111" stroke="#111" stroke-width="0.18">PGE<tspan dy="3" font-size="7.5">2</tspan><tspan dy="-3"> (ng/mL)</tspan></text>
<polyline points="52,517.5 65.5,439.2 79.5,498 123.7,503 229.2,501.5" fill="none" stroke="#111" stroke-width="1.35"/>
<line x1="65.5" y1="409.5" x2="65.5" y2="468.2" stroke="#111" stroke-width="1.2"/>
<line x1="63.0" y1="409.5" x2="68.0" y2="409.5" stroke="#111" stroke-width="1.2"/>
<line x1="63.0" y1="468.2" x2="68.0" y2="468.2" stroke="#111" stroke-width="1.2"/>
<line x1="79.5" y1="488.75" x2="79.5" y2="507" stroke="#111" stroke-width="1.2"/>
<line x1="77.0" y1="488.75" x2="82.0" y2="488.75" stroke="#111" stroke-width="1.2"/>
<line x1="77.0" y1="507" x2="82.0" y2="507" stroke="#111" stroke-width="1.2"/>
<line x1="123.7" y1="498" x2="123.7" y2="508" stroke="#111" stroke-width="1.2"/>
<line x1="121.2" y1="498" x2="126.2" y2="498" stroke="#111" stroke-width="1.2"/>
<line x1="121.2" y1="508" x2="126.2" y2="508" stroke="#111" stroke-width="1.2"/>
<line x1="229.2" y1="496.3" x2="229.2" y2="507" stroke="#111" stroke-width="1.2"/>
<line x1="226.7" y1="496.3" x2="231.7" y2="496.3" stroke="#111" stroke-width="1.2"/>
<line x1="226.7" y1="507" x2="231.7" y2="507" stroke="#111" stroke-width="1.2"/>
<rect x="49.0" y="514.5" width="6" height="6" fill="#000"/>
<rect x="62.5" y="436.2" width="6" height="6" fill="#000"/>
<rect x="76.5" y="495.0" width="6" height="6" fill="#000"/>
<rect x="120.7" y="500.0" width="6" height="6" fill="#000"/>
<rect x="226.2" y="498.5" width="6" height="6" fill="#000"/>
<text x="276.3" y="380.8" font-family="Liberation Sans" font-size="19" text-anchor="start" font-weight="bold" fill="#000" stroke="#000" stroke-width="0.3" >F</text>
<line x1="283.5" y1="386.5" x2="283.5" y2="408" stroke="#111" stroke-width="1.5"/>
<line x1="310.6" y1="390.8" x2="310.6" y2="521.6" stroke="#111" stroke-width="1.2"/>
<line x1="307.3" y1="390.8" x2="310.6" y2="390.8" stroke="#111" stroke-width="1.2"/>
<text x="304.8" y="394.3" font-family="Liberation Serif" font-size="10" text-anchor="end" font-weight="normal" fill="#111" stroke="#111" stroke-width="0.1" >1.5</text>
<line x1="307.3" y1="434.4" x2="310.6" y2="434.4" stroke="#111" stroke-width="1.2"/>
<text x="304.8" y="437.9" font-family="Liberation Serif" font-size="10" text-anchor="end" font-weight="normal" fill="#111" stroke="#111" stroke-width="0.1" >1.0</text>
<line x1="307.3" y1="478.0" x2="310.6" y2="478.0" stroke="#111" stroke-width="1.2"/>
<text x="304.8" y="481.5" font-family="Liberation Serif" font-size="10" text-anchor="end" font-weight="normal" fill="#111" stroke="#111" stroke-width="0.1" >0.5</text>
<line x1="307.3" y1="521.6" x2="310.6" y2="521.6" stroke="#111" stroke-width="1.2"/>
<text x="304.8" y="525.1" font-family="Liberation Serif" font-size="10" text-anchor="end" font-weight="normal" fill="#111" stroke="#111" stroke-width="0.1" >0</text>
<line x1="480.4" y1="390.8" x2="480.4" y2="523" stroke="#111" stroke-width="1.2"/>
<line x1="480.4" y1="390.8" x2="483.7" y2="390.8" stroke="#111" stroke-width="1.2"/>
<text x="487.2" y="394.3" font-family="Liberation Serif" font-size="10" text-anchor="start" font-weight="normal" fill="#111" stroke="#111" stroke-width="0.1" >175</text>
<line x1="480.4" y1="409.69" x2="483.7" y2="409.69" stroke="#111" stroke-width="1.2"/>
<text x="487.2" y="413.19" font-family="Liberation Serif" font-size="10" text-anchor="start" font-weight="normal" fill="#111" stroke="#111" stroke-width="0.1" >150</text>
<line x1="480.4" y1="428.58" x2="483.7" y2="428.58" stroke="#111" stroke-width="1.2"/>
<text x="487.2" y="432.08" font-family="Liberation Serif" font-size="10" text-anchor="start" font-weight="normal" fill="#111" stroke="#111" stroke-width="0.1" >125</text>
<line x1="480.4" y1="447.47" x2="483.7" y2="447.47" stroke="#111" stroke-width="1.2"/>
<text x="487.2" y="450.97" font-family="Liberation Serif" font-size="10" text-anchor="start" font-weight="normal" fill="#111" stroke="#111" stroke-width="0.1" >100</text>
<line x1="480.4" y1="466.36" x2="483.7" y2="466.36" stroke="#111" stroke-width="1.2"/>
<text x="487.2" y="469.86" font-family="Liberation Serif" font-size="10" text-anchor="start" font-weight="normal" fill="#111" stroke="#111" stroke-width="0.1" >75</text>
<line x1="480.4" y1="485.25" x2="483.7" y2="485.25" stroke="#111" stroke-width="1.2"/>
<text x="487.2" y="488.75" font-family="Liberation Serif" font-size="10" text-anchor="start" font-weight="normal" fill="#111" stroke="#111" stroke-width="0.1" >50</text>
<line x1="480.4" y1="504.14" x2="483.7" y2="504.14" stroke="#111" stroke-width="1.2"/>
<text x="487.2" y="507.64" font-family="Liberation Serif" font-size="10" text-anchor="start" font-weight="normal" fill="#111" stroke="#111" stroke-width="0.1" >25</text>
<line x1="480.4" y1="523.03" x2="483.7" y2="523.03" stroke="#111" stroke-width="1.2"/>
<text x="487.2" y="526.53" font-family="Liberation Serif" font-size="10" text-anchor="start" font-weight="normal" fill="#111" stroke="#111" stroke-width="0.1" >0</text>
<line x1="316" y1="522.8" x2="473.3" y2="522.8" stroke="#111" stroke-width="1.2"/>
<text x="316.5" y="539.5" font-family="Liberation Serif" font-size="10.5" text-anchor="middle" font-weight="normal" fill="#111" stroke="#111" stroke-width="0.18" >0</text>
<text x="327.5" y="539.5" font-family="Liberation Serif" font-size="10.5" text-anchor="middle" font-weight="normal" fill="#111" stroke="#111" stroke-width="0.18" >3</text>
<text x="341" y="539.5" font-family="Liberation Serif" font-size="10.5" text-anchor="middle" font-weight="normal" fill="#111" stroke="#111" stroke-width="0.18" >6</text>
<text x="375.6" y="539.5" font-family="Liberation Serif" font-size="10.5" text-anchor="middle" font-weight="normal" fill="#111" stroke="#111" stroke-width="0.18" >24</text>
<text x="468.5" y="539.5" font-family="Liberation Serif" font-size="10.5" text-anchor="middle" font-weight="normal" fill="#111" stroke="#111" stroke-width="0.18" >72</text>
<text x="404.2" y="554" font-family="Liberation Serif" font-size="10.5" text-anchor="middle" font-weight="normal" fill="#111" stroke="#111" stroke-width="0.18" >Time (h)</text>
<text transform="translate(285.3,469.8) rotate(-90)" x="0" y="0" font-family="Liberation Serif" font-size="12" text-anchor="middle" font-weight="normal" fill="#111" stroke="#111" stroke-width="0.18">6-keto PGF1&#945; (ng/mL)</text>
<text transform="translate(516.8,466.9) rotate(-90)" x="0" y="0" font-family="Liberation Serif" font-size="10" text-anchor="middle" font-weight="normal" fill="#111" stroke="#111" stroke-width="0.18">2,3-dinor 6-keto PGF1&#945; (pg/mL)</text>
<line x1="515.1" y1="375.8" x2="515.1" y2="397.5" stroke="#111" stroke-width="1.4" stroke-dasharray="1.2,3.5,6,4.7,6,10"/>
<polyline points="315.6,515.2 327.7,419.7 341,504.4 375.2,505.6 468.5,491.3" fill="none" stroke="#111" stroke-width="1.35"/>
<polyline points="316.6,475.7 327.7,485 340.8,487.2 374.6,454.2 468.7,412.9" fill="none" stroke="#111" stroke-width="1.35" stroke-dasharray="4,3"/>
<line x1="327.7" y1="390.8" x2="327.7" y2="449.2" stroke="#111" stroke-width="1.2"/>
<line x1="325.2" y1="390.8" x2="330.2" y2="390.8" stroke="#111" stroke-width="1.2"/>
<line x1="325.2" y1="449.2" x2="330.2" y2="449.2" stroke="#111" stroke-width="1.2"/>
<line x1="341" y1="500" x2="341" y2="508" stroke="#111" stroke-width="1.2"/>
<line x1="338.5" y1="500" x2="343.5" y2="500" stroke="#111" stroke-width="1.2"/>
<line x1="338.5" y1="508" x2="343.5" y2="508" stroke="#111" stroke-width="1.2"/>
<line x1="468.5" y1="478.8" x2="468.5" y2="504.7" stroke="#111" stroke-width="1.2"/>
<line x1="466.0" y1="478.8" x2="471.0" y2="478.8" stroke="#111" stroke-width="1.2"/>
<line x1="466.0" y1="504.7" x2="471.0" y2="504.7" stroke="#111" stroke-width="1.2"/>
<line x1="315.6" y1="512.2" x2="315.6" y2="518.4" stroke="#111" stroke-width="1.2"/>
<line x1="313.35" y1="512.2" x2="317.85" y2="512.2" stroke="#111" stroke-width="1.2"/>
<line x1="313.35" y1="518.4" x2="317.85" y2="518.4" stroke="#111" stroke-width="1.2"/>
<line x1="316.6" y1="464.3" x2="316.6" y2="486.9" stroke="#111" stroke-width="1.2"/>
<line x1="314.1" y1="464.3" x2="319.1" y2="464.3" stroke="#111" stroke-width="1.2"/>
<line x1="314.1" y1="486.9" x2="319.1" y2="486.9" stroke="#111" stroke-width="1.2"/>
<line x1="327.7" y1="472.6" x2="327.7" y2="496.6" stroke="#111" stroke-width="1.2"/>
<line x1="325.2" y1="472.6" x2="330.2" y2="472.6" stroke="#111" stroke-width="1.2"/>
<line x1="325.2" y1="496.6" x2="330.2" y2="496.6" stroke="#111" stroke-width="1.2"/>
<line x1="340.8" y1="477.2" x2="340.8" y2="497.7" stroke="#111" stroke-width="1.2"/>
<line x1="338.3" y1="477.2" x2="343.3" y2="477.2" stroke="#111" stroke-width="1.2"/>
<line x1="338.3" y1="497.7" x2="343.3" y2="497.7" stroke="#111" stroke-width="1.2"/>
<line x1="374.6" y1="448.8" x2="374.6" y2="460" stroke="#111" stroke-width="1.2"/>
<line x1="372.1" y1="448.8" x2="377.1" y2="448.8" stroke="#111" stroke-width="1.2"/>
<line x1="372.1" y1="460" x2="377.1" y2="460" stroke="#111" stroke-width="1.2"/>
<line x1="468.7" y1="400.8" x2="468.7" y2="425.8" stroke="#111" stroke-width="1.2"/>
<line x1="466.2" y1="400.8" x2="471.2" y2="400.8" stroke="#111" stroke-width="1.2"/>
<line x1="466.2" y1="425.8" x2="471.2" y2="425.8" stroke="#111" stroke-width="1.2"/>
<rect x="312.6" y="512.2" width="6" height="6" fill="#000"/>
<rect x="324.7" y="416.7" width="6" height="6" fill="#000"/>
<rect x="338.0" y="501.4" width="6" height="6" fill="#000"/>
<rect x="372.2" y="502.6" width="6" height="6" fill="#000"/>
<rect x="465.5" y="488.3" width="6" height="6" fill="#000"/>
<rect x="313.6" y="472.7" width="6" height="6" fill="#000"/>
<rect x="324.7" y="482.0" width="6" height="6" fill="#000"/>
<rect x="337.8" y="484.2" width="6" height="6" fill="#000"/>
<rect x="371.6" y="451.2" width="6" height="6" fill="#000"/>
<rect x="465.7" y="409.9" width="6" height="6" fill="#000"/>
<text x="0.5" y="585" font-family="Liberation Sans" font-size="19" text-anchor="start" font-weight="bold" fill="#000" stroke="#000" stroke-width="0.3" >G</text>
<line x1="54.5" y1="574.6" x2="54.5" y2="681.9" stroke="#111" stroke-width="1.2"/>
<line x1="52.0" y1="574.6" x2="54.5" y2="574.6" stroke="#111" stroke-width="1.2"/>
<text x="48.5" y="579.7" font-family="Liberation Serif" font-size="10" text-anchor="end" font-weight="normal" fill="#111" stroke="#111" stroke-width="0.1" >150</text>
<line x1="52.0" y1="610.2" x2="54.5" y2="610.2" stroke="#111" stroke-width="1.2"/>
<text x="48.5" y="615.3" font-family="Liberation Serif" font-size="10" text-anchor="end" font-weight="normal" fill="#111" stroke="#111" stroke-width="0.1" >100</text>
<line x1="52.0" y1="645.8" x2="54.5" y2="645.8" stroke="#111" stroke-width="1.2"/>
<text x="48.5" y="650.9" font-family="Liberation Serif" font-size="10" text-anchor="end" font-weight="normal" fill="#111" stroke="#111" stroke-width="0.1" >50</text>
<line x1="52.0" y1="681.4" x2="54.5" y2="681.4" stroke="#111" stroke-width="1.2"/>
<text x="48.5" y="686.5" font-family="Liberation Serif" font-size="10" text-anchor="end" font-weight="normal" fill="#111" stroke="#111" stroke-width="0.1" >0</text>
<line x1="54.5" y1="681.9" x2="241.1" y2="681.9" stroke="#111" stroke-width="1.2"/>
<text x="61.2" y="697" font-family="Liberation Serif" font-size="8" text-anchor="middle" font-weight="normal" fill="#111" stroke="#111" stroke-width="0.18" >0</text>
<text x="78.8" y="697" font-family="Liberation Serif" font-size="8" text-anchor="middle" font-weight="normal" fill="#111" stroke="#111" stroke-width="0.18" >3</text>
<text x="91.5" y="697" font-family="Liberation Serif" font-size="8" text-anchor="middle" font-weight="normal" fill="#111" stroke="#111" stroke-width="0.18" >6</text>
<text x="126.7" y="697" font-family="Liberation Serif" font-size="8" text-anchor="middle" font-weight="normal" fill="#111" stroke="#111" stroke-width="0.18" >24</text>
<text x="233.9" y="697" font-family="Liberation Serif" font-size="8" text-anchor="middle" font-weight="normal" fill="#111" stroke="#111" stroke-width="0.18" >72</text>
<text x="141.7" y="711" font-family="Liberation Serif" font-size="9" text-anchor="middle" font-weight="normal" fill="#111" stroke="#111" stroke-width="0.18" >Time (h)</text>
<text transform="translate(28.5,626.5) rotate(-90)" x="0" y="0" font-family="Liberation Serif" font-size="9.6" text-anchor="middle" font-weight="normal" fill="#111" stroke="#111" stroke-width="0.18">TNF<tspan font-style="italic" dx="0.8">&#945;</tspan> (pg/ml)</text>
<polyline points="61.2,681.5 79,623.8 91.8,659.3 126.7,651 233.9,660.5" fill="none" stroke="#111" stroke-width="1.35"/>
<line x1="76.25" y1="613" x2="81.75" y2="613" stroke="#111" stroke-width="1.2"/>
<line x1="79" y1="613" x2="79" y2="623.8" stroke="#111" stroke-width="1.25"/>
<line x1="89.05" y1="650.5" x2="94.55" y2="650.5" stroke="#111" stroke-width="1.2"/>
<line x1="91.8" y1="650.5" x2="91.8" y2="659.3" stroke="#111" stroke-width="1.25"/>
<line x1="123.95" y1="641.8" x2="129.45" y2="641.8" stroke="#111" stroke-width="1.2"/>
<line x1="126.7" y1="641.8" x2="126.7" y2="651" stroke="#111" stroke-width="1.25"/>
<line x1="231.15" y1="653.3" x2="236.65" y2="653.3" stroke="#111" stroke-width="1.2"/>
<line x1="233.9" y1="653.3" x2="233.9" y2="660.5" stroke="#111" stroke-width="1.25"/>
<rect x="58.45" y="678.75" width="5.5" height="5.5" fill="#000"/>
<rect x="76.25" y="621.05" width="5.5" height="5.5" fill="#000"/>
<rect x="89.05" y="656.55" width="5.5" height="5.5" fill="#000"/>
<rect x="123.95" y="648.25" width="5.5" height="5.5" fill="#000"/>
<rect x="231.15" y="657.75" width="5.5" height="5.5" fill="#000"/>
<text x="275.5" y="584" font-family="Liberation Sans" font-size="19" text-anchor="start" font-weight="bold" fill="#000" stroke="#000" stroke-width="0.3" >H</text>
<line x1="316.2" y1="572.9" x2="316.2" y2="682.7" stroke="#111" stroke-width="1.2"/>
<line x1="312.7" y1="572.9" x2="316.2" y2="572.9" stroke="#111" stroke-width="1.2"/>
<text x="307.9" y="578.27" font-family="Liberation Serif" font-size="10.5" text-anchor="end" font-weight="normal" fill="#111" stroke="#111" stroke-width="0.1" >400</text>
<line x1="312.7" y1="600.35" x2="316.2" y2="600.35" stroke="#111" stroke-width="1.2"/>
<text x="307.9" y="605.73" font-family="Liberation Serif" font-size="10.5" text-anchor="end" font-weight="normal" fill="#111" stroke="#111" stroke-width="0.1" >300</text>
<line x1="312.7" y1="627.8" x2="316.2" y2="627.8" stroke="#111" stroke-width="1.2"/>
<text x="307.9" y="633.17" font-family="Liberation Serif" font-size="10.5" text-anchor="end" font-weight="normal" fill="#111" stroke="#111" stroke-width="0.1" >200</text>
<line x1="312.7" y1="655.25" x2="316.2" y2="655.25" stroke="#111" stroke-width="1.2"/>
<text x="307.9" y="660.62" font-family="Liberation Serif" font-size="10.5" text-anchor="end" font-weight="normal" fill="#111" stroke="#111" stroke-width="0.1" >100</text>
<line x1="312.7" y1="682.7" x2="316.2" y2="682.7" stroke="#111" stroke-width="1.2"/>
<text x="307.9" y="688.07" font-family="Liberation Serif" font-size="10.5" text-anchor="end" font-weight="normal" fill="#111" stroke="#111" stroke-width="0.1" >0</text>
<line x1="316.2" y1="682.5" x2="497" y2="682.5" stroke="#111" stroke-width="1.2"/>
<text x="321.2" y="694.5" font-family="Liberation Serif" font-size="8" text-anchor="middle" font-weight="normal" fill="#111" stroke="#111" stroke-width="0.18" >0</text>
<text x="339.3" y="694.5" font-family="Liberation Serif" font-size="8" text-anchor="middle" font-weight="normal" fill="#111" stroke="#111" stroke-width="0.18" >3</text>
<text x="350.2" y="694.5" font-family="Liberation Serif" font-size="8" text-anchor="middle" font-weight="normal" fill="#111" stroke="#111" stroke-width="0.18" >6</text>
<text x="386.8" y="694.5" font-family="Liberation Serif" font-size="8" text-anchor="middle" font-weight="normal" fill="#111" stroke="#111" stroke-width="0.18" >24</text>
<text x="494" y="694.5" font-family="Liberation Serif" font-size="8" text-anchor="middle" font-weight="normal" fill="#111" stroke="#111" stroke-width="0.18" >72</text>
<text x="401.6" y="708.5" font-family="Liberation Serif" font-size="9" text-anchor="middle" font-weight="normal" fill="#111" stroke="#111" stroke-width="0.18" >Time (h)</text>
<text transform="translate(285.8,625.6) rotate(-90)" x="0" y="0" font-family="Liberation Serif" font-size="10" text-anchor="middle" font-weight="normal" fill="#111" stroke="#111" stroke-width="0.18">IL-10 (pg/ml)</text>
<polyline points="320.7,679.1 338.8,608.9 350.6,648 386.2,640.2 493.2,678.3" fill="none" stroke="#111" stroke-width="1.35"/>
<line x1="336.05" y1="592.6" x2="341.55" y2="592.6" stroke="#111" stroke-width="1.2"/>
<line x1="338.8" y1="592.6" x2="338.8" y2="608.9" stroke="#111" stroke-width="1.25"/>
<line x1="347.85" y1="632.5" x2="353.35" y2="632.5" stroke="#111" stroke-width="1.2"/>
<line x1="350.6" y1="632.5" x2="350.6" y2="648" stroke="#111" stroke-width="1.25"/>
<line x1="383.45" y1="625.4" x2="388.95" y2="625.4" stroke="#111" stroke-width="1.2"/>
<line x1="386.2" y1="625.4" x2="386.2" y2="640.2" stroke="#111" stroke-width="1.25"/>
<rect x="317.95" y="676.35" width="5.5" height="5.5" fill="#000"/>
<rect x="336.05" y="606.15" width="5.5" height="5.5" fill="#000"/>
<rect x="347.85" y="645.25" width="5.5" height="5.5" fill="#000"/>
<rect x="383.45" y="637.45" width="5.5" height="5.5" fill="#000"/>
<rect x="490.45" y="675.55" width="5.5" height="5.5" fill="#000"/>
</svg></body></html>
